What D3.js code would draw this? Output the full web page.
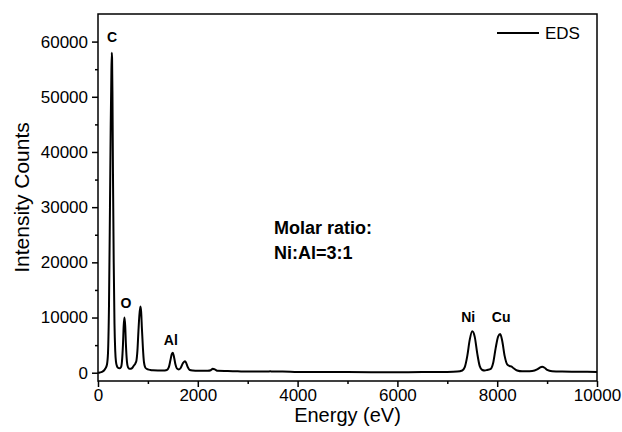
<!DOCTYPE html>
<html>
<head>
<meta charset="utf-8">
<script src="https://cdn.jsdelivr.net/npm/d3@7/dist/d3.min.js"></script>
<style>
  html, body { margin: 0; padding: 0; background: #fff; }
  svg { display: block; }
  text { font-family: "Liberation Sans", Arial, sans-serif; }
</style>
</head>
<body>
<svg id="chart" width="622" height="432"></svg>
<script>
// ---- data ----
const energy = [0, 40, 80, 120, 150, 180, 200, 220, 240, 255, 265, 275, 282, 290, 300, 315, 330, 345, 360, 380, 400, 430, 460, 480, 500, 515, 530, 545, 560, 580, 600, 630, 660, 690, 720, 750, 770, 790, 810, 830, 850, 865, 880, 900, 920, 950, 1000, 1050, 1100, 1300, 1380, 1420, 1450, 1480, 1500, 1520, 1550, 1580, 1620, 1660, 1700, 1740, 1760, 1800, 1840, 1900, 2000, 2200, 2260, 2300, 2340, 2400, 2600, 2800, 3000, 3400, 3450, 3500, 3700, 4000, 5000, 6000, 6500, 7000, 7200, 7300, 7350, 7400, 7450, 7500, 7550, 7600, 7650, 7700, 7750, 7800, 7870, 7920, 7970, 8020, 8060, 8100, 8150, 8200, 8250, 8290, 8330, 8400, 8500, 8600, 8700, 8800, 8850, 8900, 8950, 9000, 9100, 9300, 9600, 10000];
const counts = [0, 50, 150, 400, 800, 1500, 3500, 12000, 30000, 45000, 52000, 58000, 57000, 50000, 36000, 20000, 9000, 4000, 2000, 1200, 900, 800, 1000, 2000, 5000, 8500, 10000, 8500, 5000, 2000, 1000, 700, 700, 900, 1300, 1700, 2200, 4000, 7500, 10500, 12000, 11000, 8000, 4500, 2000, 900, 600, 500, 450, 400, 500, 1000, 2200, 3400, 3600, 3000, 1600, 800, 600, 900, 1700, 2100, 1900, 1000, 500, 400, 350, 350, 450, 700, 600, 350, 300, 250, 200, 200, 250, 200, 220, 150, 120, 100, 120, 150, 200, 400, 1000, 3000, 6000, 7500, 6500, 3500, 1200, 500, 400, 500, 700, 1800, 4500, 6600, 7000, 5800, 3000, 1500, 1200, 1100, 800, 400, 250, 250, 300, 600, 900, 1100, 900, 500, 250, 200, 180, 150];

const xTicks = [0, 2000, 4000, 6000, 8000, 10000];
const xMinor = [1000, 3000, 5000, 7000, 9000];
const yTicks = [0, 10000, 20000, 30000, 40000, 50000, 60000];
const yMinor = [5000, 15000, 25000, 35000, 45000, 55000];

const peakNames = ["C", "O", "Al", "Ni", "Cu"];
const peakEnergy = [280, 560, 1460, 7420, 8080];
const peakLabelY = [60000, 11700, 5000, 9200, 9200];

const seriesName = "EDS";
const noteLines = ["Molar ratio:", "Ni:Al=3:1"];

// ---- drawing ----
const svg = d3.select("#chart");
const L = 98, R = 597, T = 14, B = 381;
const x = d3.scaleLinear().domain([0, 10000]).range([L, R]);
const y = d3.scaleLinear().domain([-1500, 65000]).range([B, T]);

const fontSize = 17;

// frame
svg.append("rect").attr("x", L).attr("y", T).attr("width", R - L).attr("height", B - T)
  .attr("fill", "none").attr("stroke", "#000").attr("stroke-width", 1.5);

// x axis
const gx = svg.append("g").attr("transform", `translate(0,${B})`)
  .call(d3.axisBottom(x).tickValues(xTicks).tickSize(6).tickSizeOuter(0).tickPadding(2).tickFormat(d3.format("d")));
const gxm = svg.append("g").attr("transform", `translate(0,${B})`)
  .call(d3.axisBottom(x).tickValues(xMinor).tickSize(3).tickSizeOuter(0).tickFormat(""));
// y axis
const gy = svg.append("g").attr("transform", `translate(${L},0)`)
  .call(d3.axisLeft(y).tickValues(yTicks).tickSize(6).tickSizeOuter(0).tickPadding(4).tickFormat(d3.format("d")));
const gym = svg.append("g").attr("transform", `translate(${L},0)`)
  .call(d3.axisLeft(y).tickValues(yMinor).tickSize(3).tickSizeOuter(0).tickFormat(""));

[gx, gxm, gy, gym].forEach(g => {
  g.select(".domain").remove();
  g.selectAll("line").attr("stroke", "#000").attr("stroke-width", 1.5);
  g.selectAll("text").attr("font-size", fontSize).attr("fill", "#000")
    .style("font-family", '"Liberation Sans", Arial, sans-serif');
});

// data line
const pts = energy.map((e, i) => [e, counts[i]]);
svg.append("path")
  .datum(pts)
  .attr("fill", "none")
  .attr("stroke", "#000")
  .attr("stroke-width", 2)
  .attr("stroke-linejoin", "round")
  .attr("d", d3.line().x(d => x(d[0])).y(d => y(d[1])).curve(d3.curveMonotoneX));

// peak labels
peakNames.forEach((n, i) => {
  svg.append("text").attr("x", x(peakEnergy[i])).attr("y", y(peakLabelY[i]))
    .attr("text-anchor", "middle").attr("font-size", 14).attr("font-weight", "bold")
    .text(n);
});

// note
noteLines.forEach((t, i) => {
  svg.append("text").attr("x", 274).attr("y", 234 + i * 25)
    .attr("font-size", 18).attr("font-weight", "bold").text(t);
});

// legend
svg.append("line").attr("x1", 497).attr("x2", 539).attr("y1", 33).attr("y2", 33)
  .attr("stroke", "#000").attr("stroke-width", 2);
svg.append("text").attr("x", 545).attr("y", 39).attr("font-size", 17).text(seriesName);

// axis titles
svg.append("text").attr("x", (L + R) / 2).attr("y", 422).attr("text-anchor", "middle")
  .attr("font-size", 20).text("Energy (eV)");
svg.append("text").attr("transform", `translate(29,${(T + B) / 2}) rotate(-90)`)
  .attr("text-anchor", "middle").attr("font-size", 21).text("Intensity Counts");
</script>
</body>
</html>
